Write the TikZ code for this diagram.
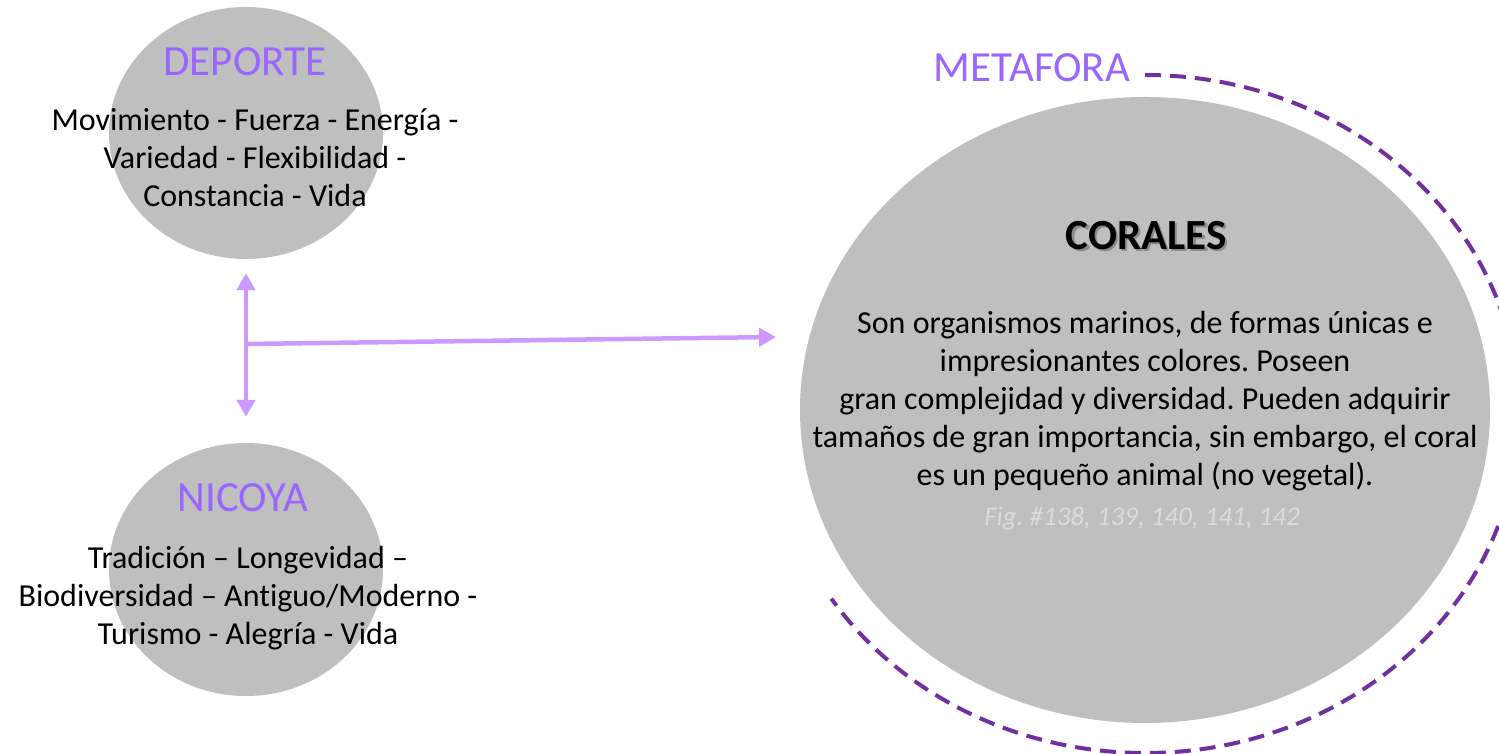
\documentclass[tikz,border=0pt]{standalone}
\usepackage{fontspec}
\setmainfont{Carlito}[Ligatures=NoCommon]
\frenchspacing
\usetikzlibrary{arrows.meta,calc,shapes.geometric}
\definecolor{bubble}{HTML}{BFBFBF}
\definecolor{titleviolet}{HTML}{9966FF}
\definecolor{arrowlilac}{HTML}{CC99FF}
\definecolor{darkviolet}{HTML}{7030A0}
\definecolor{figgray}{HTML}{DCDCDC}
\tikzset{
  bubblenode/.style={ellipse, fill=bubble, draw=none, inner sep=0pt},
  titletext/.style={text=titleviolet, font=\fontsize{43}{50}\selectfont, inner sep=0pt, anchor=base},
  bodytext/.style={text=black, font=\fontsize{32}{38}\selectfont, align=center, inner sep=0pt},
  conn/.style={draw=arrowlilac, line width=4.5pt},
  liltip/.tip={Triangle[length=17pt, width=18pt]},
  metaarc/.style={draw=darkviolet, line width=4pt, dash pattern=on 16pt off 9pt}
}
\begin{document}
\begin{tikzpicture}[x=1pt,y=1pt]
\useasboundingbox[fill=white] (0,0) rectangle (1499,754);

% bubbles
\node[bubblenode, minimum width=274pt, minimum height=252pt] (dep) at (246,621) {};
\node[bubblenode, minimum width=274pt, minimum height=253pt] (nic) at (246,184.5) {};
\node[bubblenode, minimum width=690pt, minimum height=626pt] (cor) at (1145,344) {};

% metaphor dashed arc
\coordinate (arcstart) at (1145,679);
\draw[metaarc] (arcstart) arc[start angle=90, end angle=-147, x radius=374, y radius=339];

% titles
\node[titletext] (deptitle) at (245,678) {DEPORTE};
\node[titletext] (nictitle) at (243,242) {NICOYA};
\node[titletext] (metatitle) at (1032,672) {METAFORA};
\node[text=black!45, font=\fontsize{43}{50}\selectfont\bfseries, inner sep=0pt, anchor=base] (corshadow) at (1148.5,502) {CORALES};
\node[text=black, font=\fontsize{43}{50}\selectfont\bfseries, inner sep=0pt, anchor=base] (cortitle) at (1146,504.5) {CORALES};

% bodies
\node[bodytext] (depbody) at (255,596) {Movimiento - Fuerza - Energía -\\Variedad - Flexibilidad -\\Constancia - Vida};
\node[bodytext] (nicbody) at (248,156) {Tradición – Longevidad –\\Biodiversidad – Antiguo/Moderno -\\Turismo - Alegría - Vida};
\node[bodytext] (corbody) at (1145,353) {Son organismos marinos, de formas únicas e\\impresionantes colores. Poseen\\gran complejidad y diversidad. Pueden adquirir\\tamaños de gran importancia, sin embargo, el coral\\es un pequeño animal (no vegetal).};
\node[text=figgray, font=\fontsize{27}{30}\selectfont\itshape, inner sep=0pt, anchor=base] (figref) at (1142,228) {Fig. \#138, 139, 140, 141, 142};

% connectors
\coordinate (junction) at (246,410);
\coordinate (arrowend) at (776,417);
\draw[conn, liltip-liltip, shorten <=14pt, shorten >=26pt] (dep.south) -- (nic.north);
\draw[conn, -liltip] (junction) -- (arrowend);
\end{tikzpicture}
\end{document}
